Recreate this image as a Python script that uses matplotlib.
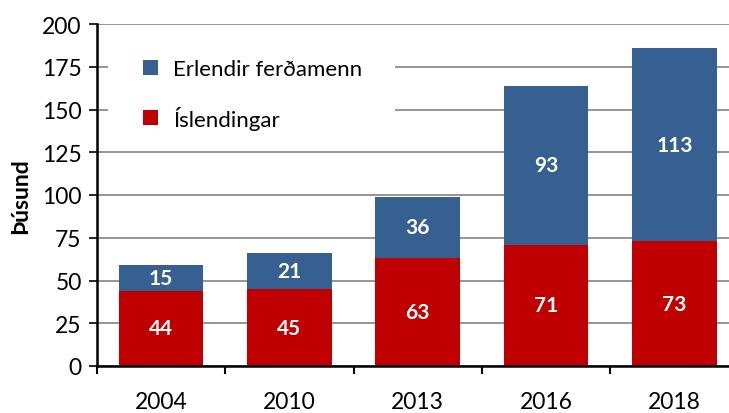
import matplotlib
matplotlib.use("Agg")
import matplotlib.pyplot as plt
from matplotlib.patches import Patch, Rectangle
import numpy as np

years = ["2004", "2010", "2013", "2016", "2018"]
islendingar = [44, 45, 63, 71, 73]
erlendir = [15, 21, 36, 93, 113]
yticks = [0, 25, 50, 75, 100, 125, 150, 175, 200]

RED = "#C00000"
BLUE = "#376092"
plt.rcParams['font.family'] = ['Lato', 'DejaVu Sans']

fig = plt.figure(figsize=(7.29, 4.14), dpi=100)
W, H = 729, 414
left, right_px, top_px, bot_px = 97, 97 + 5 * 128.3, 25, 367
ax = fig.add_axes([left / W, (H - bot_px) / H, (right_px - left) / W, (bot_px - top_px) / H])

x = np.arange(len(years))
bw = 0.66
b1 = ax.bar(x, islendingar, width=bw, color=RED, zorder=2)
b2 = ax.bar(x, erlendir, width=bw, bottom=islendingar, color=BLUE, zorder=2)

for i in range(len(years)):
    ax.text(x[i], islendingar[i] / 2, str(islendingar[i]), ha='center', va='center',
            color='white', fontweight='bold', fontsize=15, zorder=3)
    ax.text(x[i], islendingar[i] + erlendir[i] / 2, str(erlendir[i]), ha='center', va='center',
            color='white', fontweight='bold', fontsize=15, zorder=3)

ax.set_xlim(-0.5, len(years) - 0.5)
ax.set_ylim(0, 200)
ax.set_yticks(yticks)
ax.set_yticklabels([str(v) for v in yticks], fontsize=16.5)
ax.yaxis.grid(True, color='#8c8c8c', linewidth=1.3)
ax.set_axisbelow(True)

ax.set_xticks(x)
ax.set_xticklabels(years, fontsize=16.5)
ax.set_xticks(np.arange(-0.5, len(years) + 0.5, 1), minor=True)
ax.tick_params(axis='x', which='major', length=0, pad=18)
ax.tick_params(axis='x', which='minor', length=6, width=1.5, direction='out')
ax.tick_params(axis='y', length=6, width=1.2, direction='out', pad=5)

for s in ['top', 'right']:
    ax.spines[s].set_visible(False)
ax.spines['left'].set_linewidth(1.8)
ax.spines['bottom'].set_linewidth(1.8)

ax.set_ylabel("Þúsund", fontsize=16.5, fontweight='bold', labelpad=8)

# white legend background covering gridlines
ax.add_patch(Rectangle((0.017, 0.664), 0.448, 0.29, transform=ax.transAxes,
                       facecolor='white', edgecolor='none', zorder=1))

handles = [Patch(facecolor=BLUE, edgecolor='none'), Patch(facecolor=RED, edgecolor='none')]
leg = ax.legend(handles, ["Erlendir ferðamenn", "Íslendingar"], loc='upper left',
                bbox_to_anchor=(0.0717, 0.898), frameon=False, fontsize=16,
                handlelength=0.66, handleheight=0.66, handletextpad=0.7,
                labelspacing=1.2, borderpad=0, borderaxespad=0)
leg.set_zorder(4)

fig.savefig("out.png", dpi=100)
